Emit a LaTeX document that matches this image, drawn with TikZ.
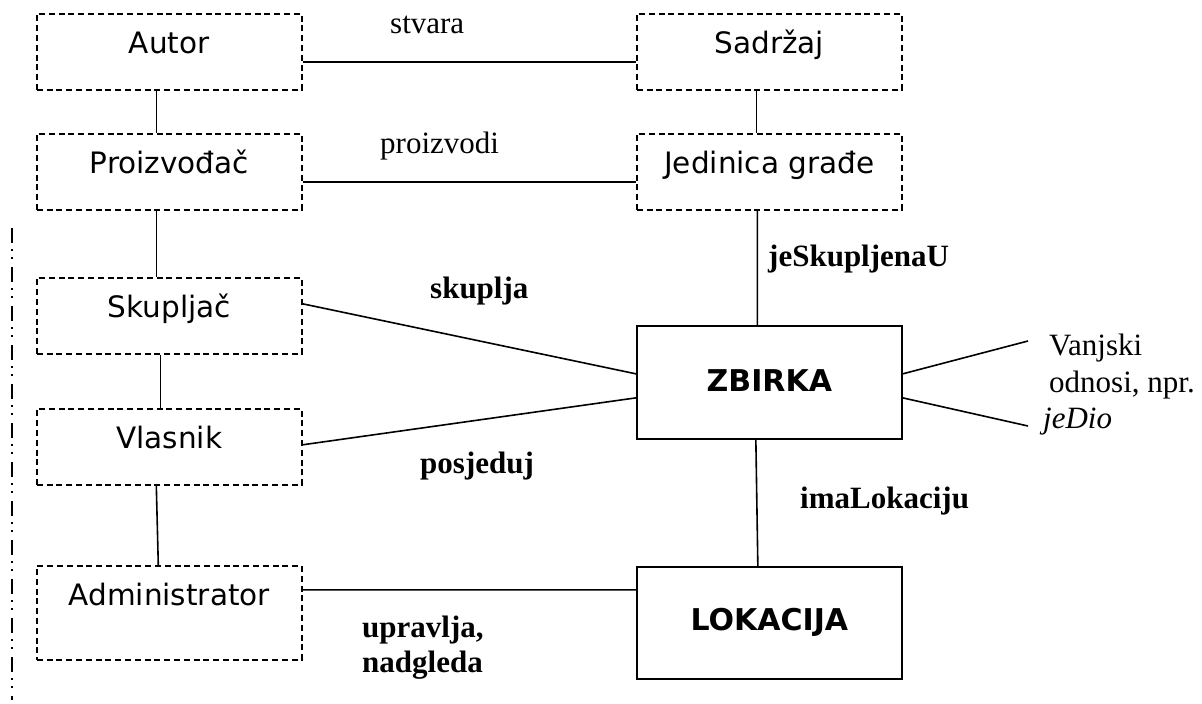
\documentclass[tikz,border=0pt]{standalone}
\usepackage{fontspec}
\setmainfont{Liberation Serif}
\newfontfamily\boxfont{DejaVu Sans}
\begin{document}
\begin{tikzpicture}[x=1pt,y=-1pt,
  dbox/.style={draw, line width=1.6pt, dash pattern=on 6pt off 3.8pt, inner sep=0pt,
    minimum width=265pt, font=\boxfont\fontsize{29.5}{33}\selectfont,
    text height=40pt, text depth=36pt},
  sbox/.style={draw, line width=1.7pt, inner sep=0pt, minimum width=265pt,
    font=\boxfont\bfseries\fontsize{30}{33}\selectfont},
  conn/.style={line width=1.6pt},
  lbl/.style={anchor=base west, inner sep=0pt, font=\fontsize{31}{36}\selectfont},
  blbl/.style={lbl, font=\bfseries\fontsize{31}{36}\selectfont}]
\useasboundingbox (0,0) rectangle (1202,704);
% boxes
\node[dbox, anchor=north west] (autor) at (36,13) {Autor};
\node[dbox, anchor=north west] (proiz) at (36,133) {Proizvođač};
\node[dbox, anchor=north west] (skup) at (36,277) {Skupljač};
\node[dbox, anchor=north west] (vlas) at (36,408) {Vlasnik};
\node[dbox, anchor=north west, text depth=54pt] (adm) at (36,565) {Administrator};
\node[dbox, anchor=north west] (sadr) at (636,13) {Sadržaj};
\node[dbox, anchor=north west] (jed) at (636,133) {Jedinica građe};
\node[sbox, anchor=north west, text height=66pt, text depth=47pt] (zb) at (636,325) {ZBIRKA};
\node[sbox, anchor=north west, text height=64pt, text depth=48pt] (lok) at (636,566) {LOKACIJA};
% left dash-dot-dot line
\draw[line width=1.6pt, dash pattern=on 15pt off 6pt on 1.5pt off 6.5pt on 1.5pt off 8.5pt]
  (12,228) -- (12,700);
% connectors
\draw[conn] ([yshift=-10pt]autor.east) -- ([yshift=-10pt]sadr.west);
\draw[conn] ([yshift=-10pt]proiz.east) -- ([yshift=-10pt]jed.west);
\draw[conn] ([xshift=-13pt]autor.south) -- ([xshift=-13pt]proiz.north);
\draw[conn] ([xshift=-13pt]proiz.south) -- ([xshift=-13pt]skup.north);
\draw[conn] ([xshift=-9pt]skup.south) -- ([xshift=-9pt]vlas.north);
\draw[conn] ([xshift=-13pt]vlas.south) -- ([xshift=-11pt]adm.north);
\draw[conn] ([xshift=-13pt]sadr.south) -- ([xshift=-13pt]jed.north);
\draw[conn] ([xshift=-12pt]jed.south) -- ([xshift=-12pt]zb.north);
\draw[conn] ([xshift=-13.5pt]zb.south) -- ([xshift=-11.5pt]lok.north);
\draw[conn] ([yshift=12pt]skup.east) -- ([yshift=8.5pt]zb.west);
\draw[conn] ([yshift=2pt]vlas.east) -- ([yshift=-15.5pt]zb.west);
\draw[conn] ([yshift=23pt]adm.east) -- ([yshift=33pt]lok.west);
\coordinate (ext1) at (1028,341);
\coordinate (ext2) at (1028,426);
\draw[conn] ([yshift=8.5pt]zb.east) -- (ext1);
\draw[conn] ([yshift=-15.5pt]zb.east) -- (ext2);
% labels
\node[lbl] (l1) at (390,33) {stvara};
\node[lbl] (l2) at (380,153) {proizvodi};
\node[blbl] (l3) at (430,298) {skuplja};
\node[blbl] (l4) at (420,473) {posjeduj};
\node[blbl] (l5) at (768,266) {jeSkupljenaU};
\node[blbl] (l6) at (800,508) {imaLokaciju};
\node[blbl] (l7) at (362,637) {upravlja,};
\node[blbl] (l8) at (362,672) {nadgleda};
\node[lbl] (l9) at (1049,355) {Vanjski};
\node[lbl] (l10) at (1049,392) {odnosi, npr.};
\node[lbl] (l11) at (1043,428) {\itshape jeDio};
\end{tikzpicture}
\end{document}
